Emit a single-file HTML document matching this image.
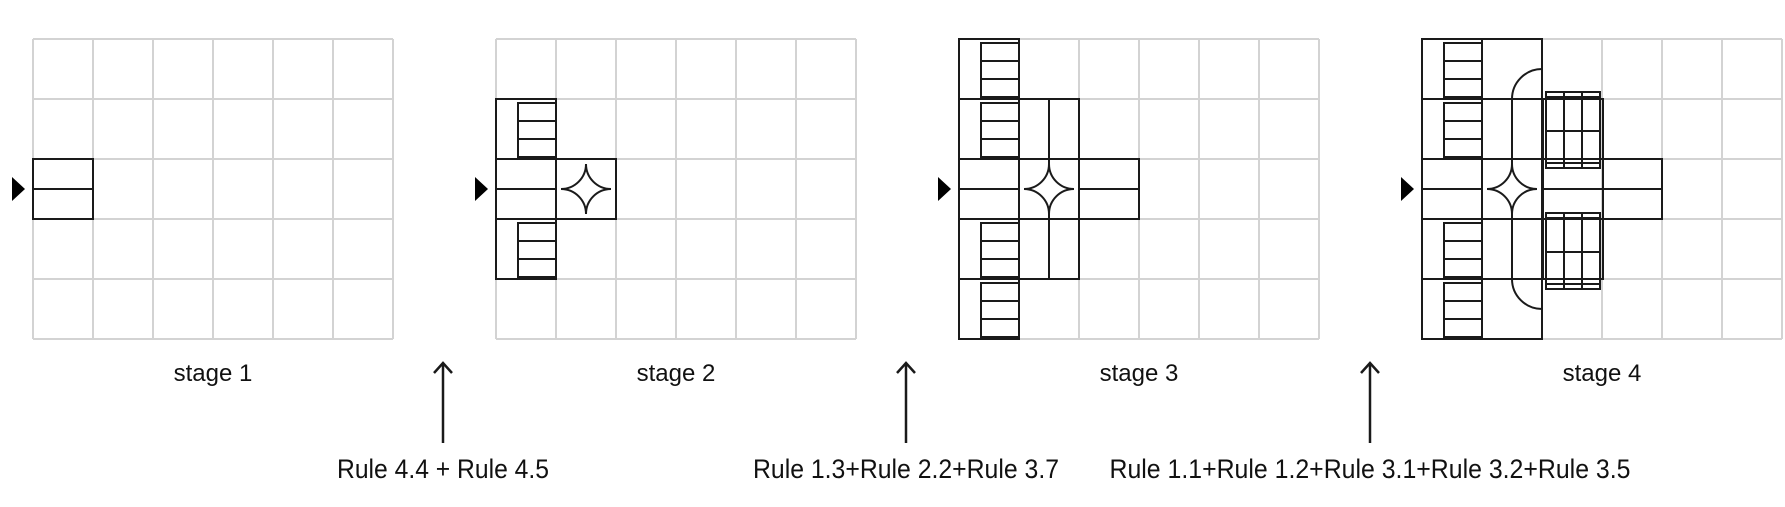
<!DOCTYPE html>
<html><head><meta charset="utf-8"><style>
html,body{margin:0;padding:0;background:#fff;}
svg{display:block;}
text{font-family:"Liberation Sans",sans-serif;fill:#111;}
</style></head><body>
<svg id="fig" width="1785" height="507" viewBox="0 0 1785 507" xmlns="http://www.w3.org/2000/svg">
<g id="grids"></g><g id="shapes"></g><g id="labels"></g>
</svg>
<script>
const NS='http://www.w3.org/2000/svg';
const stageX=[33,496,959,1422];
const Y0=39, C=60;
const stageNames=['stage 1','stage 2','stage 3','stage 4'];
const ruleTexts=['Rule 4.4 + Rule 4.5','Rule 1.3+Rule 2.2+Rule 3.7','Rule 1.1+Rule 1.2+Rule 3.1+Rule 3.2+Rule 3.5'];
const ruleX=[443,906,1370];
const ruleLen=[212,306,521];
const INK='#1a1a1a', SW=2;
const G=document.getElementById('grids'), S=document.getElementById('shapes'), L=document.getElementById('labels');
function mk(tag,parent,attrs){const e=document.createElementNS(NS,tag);for(const k in attrs)e.setAttribute(k,attrs[k]);parent.appendChild(e);return e;}
function line(p,x1,y1,x2,y2,name,w){const e=mk('line',p,{x1,y1,x2,y2,stroke:INK,'stroke-width':w||SW});

return e;}
function rect(p,x,y,w,h,name){const e=mk('rect',p,{x,y,width:w,height:h,fill:'none',stroke:INK,'stroke-width':SW});

return e;}
function path(p,d,name,w){const e=mk('path',p,{d,fill:'none',stroke:INK,'stroke-width':w||SW});

return e;}
function cx(s,c){return stageX[s]+c*C;} function cy(r){return Y0+r*C;}
stageX.forEach((X,s)=>{
 const g=mk('g',G,{});
 
 
 for(let i=0;i<=6;i++)mk('line',g,{x1:X+i*C,y1:Y0,x2:X+i*C,y2:Y0+5*C,stroke:'#d3d3d3','stroke-width':2});
 for(let j=0;j<=5;j++)mk('line',g,{x1:X,y1:Y0+j*C,x2:X+6*C,y2:Y0+j*C,stroke:'#d3d3d3','stroke-width':2});
 const t=mk('path',S,{d:`M${X-21},${Y0+138} L${X-8},${Y0+150} L${X-21},${Y0+162} Z`,fill:'#000'});
 
 
});
function stairs(s,c,r){const x=cx(s,c)+22,y=cy(r)+4;rect(S,x,y,38,54,'stair');line(S,x,y+18,x+38,y+18,'stair-step');line(S,x,y+36,x+38,y+36,'stair-step');}
function corridor(s,c){rect(S,cx(s,c),cy(2),C,C,'corridor');line(S,cx(s,c),cy(2)+30,cx(s,c)+C,cy(2)+30,'corridor-centerline');}
function astroid(s,c){const mx=cx(s,c)+30,my=cy(2)+30,a=25;
 path(S,`M${mx-a},${my} A${a},${a} 0 0 0 ${mx},${my-a} A${a},${a} 0 0 0 ${mx+a},${my} A${a},${a} 0 0 0 ${mx},${my+a} A${a},${a} 0 0 0 ${mx-a},${my} Z`,'junction');}
function tableBlock(s,y){const x=cx(s,2)+4;rect(S,x,y,54,76,'table');
 line(S,x+18,y,x+18,y+76,'table-line');line(S,x+36,y,x+36,y+76,'table-line');
 line(S,x,y+5,x+54,y+5,'table-line');line(S,x,y+39,x+54,y+39,'table-line');line(S,x,y+71,x+54,y+71,'table-line');}
corridor(0,0);
rect(S,cx(1,0),cy(1),C,3*C,'room-block');corridor(1,0);rect(S,cx(1,1),cy(2),C,C,'junction-cell');astroid(1,1);stairs(1,0,1);stairs(1,0,3);
for(let r=0;r<5;r++)rect(S,cx(2,0),cy(r),C,C,'room-cell');
[0,1,3,4].forEach(r=>stairs(2,0,r));corridor(2,0);
rect(S,cx(2,1),cy(1),C,3*C,'hall-block');rect(S,cx(2,1),cy(2),C,C,'junction-cell');astroid(2,1);
line(S,cx(2,1)+30,cy(1),cx(2,1)+30,cy(2)+5,'hall-divider');line(S,cx(2,1)+30,cy(3)-5,cx(2,1)+30,cy(4),'hall-divider');
corridor(2,2);
for(let r=0;r<5;r++)rect(S,cx(3,0),cy(r),C,C,'room-cell');
[0,1,3,4].forEach(r=>stairs(3,0,r));corridor(3,0);
rect(S,cx(3,1),cy(0),C,5*C,'hall-block');
for(let r=1;r<5;r++)line(S,cx(3,1),cy(r),cx(3,1)+C,cy(r),'hall-row');
astroid(3,1);
path(S,`M${cx(3,2)},${cy(0)+30} A30,30 0 0 0 ${cx(3,1)+30},${cy(1)} L${cx(3,1)+30},${cy(2)+5}`,'hall-curve-top');
path(S,`M${cx(3,1)+30},${cy(3)-5} L${cx(3,1)+30},${cy(4)} A30,30 0 0 0 ${cx(3,2)},${cy(4)+30}`,'hall-curve-bottom');
rect(S,cx(3,2)+1,cy(1),C,3*C,'dining-block');
rect(S,cx(3,2),cy(2),2*C,C,'corridor');line(S,cx(3,2),cy(2)+30,cx(3,4),cy(2)+30,'corridor-centerline');
tableBlock(3,92);tableBlock(3,213);
stageNames.forEach((n,s)=>{const t=mk('text',L,{x:stageX[s]+180,y:381,'font-size':24,'text-anchor':'middle'});t.textContent=n;
 
 });
ruleTexts.forEach((r,i)=>{const x=ruleX[i];
 line(L,x,363,x,443,'transition-arrow',2.5);
 path(L,`M${x-9},${373} L${x},${363} L${x+9},${373}`,'arrow-head',2.5);
 const t=mk('text',L,{x:x,y:478,'font-size':27,'text-anchor':'middle',textLength:ruleLen[i],lengthAdjust:'spacingAndGlyphs'});t.textContent=r;
 
 });
</script>
</body></html>
